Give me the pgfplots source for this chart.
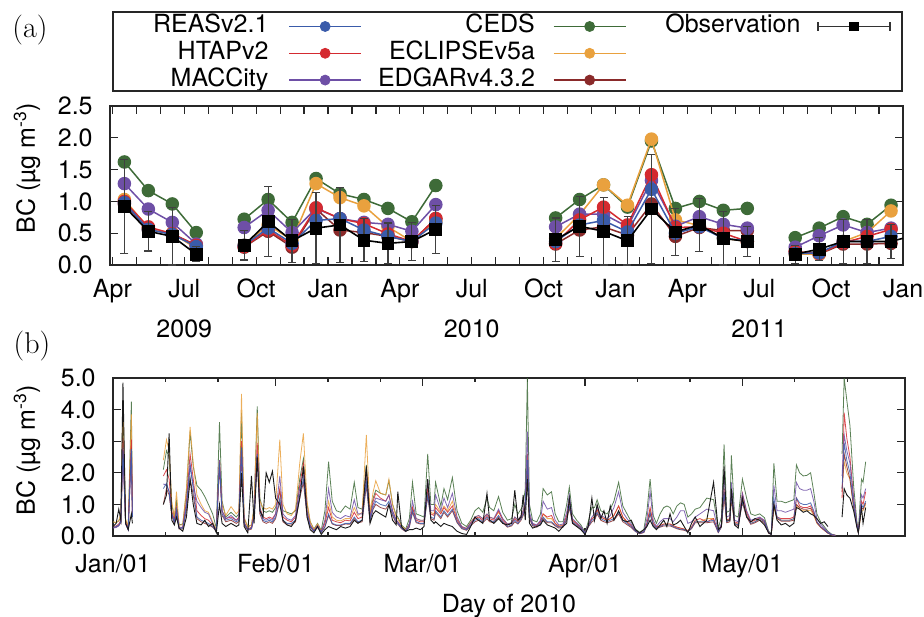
\documentclass[border=0pt]{standalone}
\usepackage{fontspec}
\setsansfont{TeX Gyre Heros}
\usepackage{pgfplots}
\pgfplotsset{compat=1.18}
\usepackage{pgfplotstable}

\definecolor{creas}{HTML}{3A5BAA}
\definecolor{chtap}{HTML}{D42A30}
\definecolor{cmacc}{HTML}{6E4FA6}
\definecolor{cceds}{HTML}{3E6B38}
\definecolor{cecl}{HTML}{E9A13E}
\definecolor{cedgar}{HTML}{8A2A2A}

% monthly means, x = months since 2009-01-01
\pgfplotstableread{
m obs err reas htap macc ceds ecl edgar
3.5 0.92 0.74 0.98 1.00 1.28 1.62 1.03 0.96
4.5 0.53 0.31 0.56 0.60 0.88 1.17 0.58 0.56
5.5 0.45 0.45 0.48 0.49 0.67 0.96 0.50 0.49
6.5 0.17 0.12 0.29 0.31 0.33 0.51 0.26 0.31
7.5 nan nan nan nan nan nan nan nan
8.5 0.31 0.23 0.31 0.29 0.59 0.72 0.31 0.28
9.5 0.68 0.55 0.58 0.55 0.86 1.03 0.63 0.53
10.5 0.38 0.34 0.34 0.31 0.51 0.67 0.39 0.28
11.5 0.58 0.56 0.70 0.90 0.89 1.36 1.28 0.88
12.5 0.63 0.59 0.73 0.73 0.73 1.12 1.06 0.55
13.5 0.39 0.34 0.55 0.65 0.67 1.03 0.93 0.51
14.5 0.34 0.32 0.45 0.49 0.64 0.89 0.60 0.45
15.5 0.37 0.30 0.37 0.37 0.53 0.68 0.37 0.37
16.5 0.56 0.38 0.66 0.73 0.95 1.25 0.68 0.73
17.5 nan nan nan nan nan nan nan nan
21.5 0.40 0.34 0.37 0.34 0.60 0.74 0.42 0.33
22.5 0.61 0.47 0.63 0.71 0.80 1.03 0.79 0.55
23.5 0.53 0.53 0.70 0.91 0.80 1.26 1.26 0.60
24.5 0.38 0.38 0.52 0.63 0.60 0.91 0.94 0.47
25.5 0.88 0.86 1.19 1.42 1.33 1.95 1.98 0.96
26.5 0.52 0.37 0.50 0.59 0.61 0.89 0.71 0.45
27.5 0.63 0.42 0.60 0.60 0.76 1.00 0.62 0.59
28.5 0.42 0.42 0.42 0.50 0.64 0.86 0.42 0.54
29.5 0.37 0.24 0.38 0.37 0.58 0.89 0.37 0.54
30.5 nan nan nan nan nan nan nan nan
31.5 0.17 0.14 0.18 0.21 0.28 0.43 0.17 0.21
32.5 0.25 0.18 0.19 0.18 0.46 0.58 0.17 0.17
33.5 0.37 0.34 0.37 0.35 0.63 0.76 0.37 0.33
34.5 0.37 0.35 0.37 0.45 0.51 0.64 0.51 0.33
35.5 0.37 0.27 0.45 0.56 0.58 0.94 0.85 0.34
}\monthly

% daily series of 2010, x = days since 2010-01-01
\pgfplotstableread{
d obs reas htap macc ceds ecl edgar
0.0 0.30 0.28 0.30 0.25 0.45 0.45 0.27
0.6 0.40 0.30 0.32 0.27 0.42 0.42 0.28
1.1 0.85 0.35 0.38 0.32 0.48 0.50 0.33
1.5 0.50 0.45 0.50 0.45 0.60 0.70 0.42
1.9 4.85 2.80 3.10 2.70 4.10 4.25 2.60
2.4 0.40 0.40 0.45 0.40 0.50 0.55 0.38
2.9 0.20 0.20 0.22 0.20 0.30 0.30 0.20
3.5 0.70 2.75 3.05 2.70 4.25 3.85 2.80
3.7 0.40 0.60 0.70 0.60 0.90 0.90 0.60
4.0 nan nan nan nan nan nan nan
9.6 1.00 1.50 1.90 1.65 2.10 2.40 1.00
10.2 1.30 1.67 2.10 1.60 2.70 3.05 1.50
10.7 3.25 1.40 1.80 1.40 2.50 2.70 1.30
11.2 0.50 0.70 0.80 0.70 1.00 1.10 0.65
11.7 0.35 0.45 0.50 0.45 0.60 0.60 0.40
12.1 0.60 0.80 0.90 0.85 1.10 1.40 0.80
12.6 0.25 0.25 0.28 0.25 0.35 0.35 0.22
13.3 0.15 0.25 0.28 0.27 0.38 0.35 0.22
14.0 0.60 0.90 1.10 1.00 1.40 1.50 0.80
14.7 1.80 2.20 2.60 2.30 3.30 3.45 1.80
15.3 1.00 1.50 1.80 1.60 2.20 2.30 1.30
16.0 0.40 0.60 0.80 1.10 1.60 1.30 0.55
16.8 0.35 0.50 0.65 0.90 1.45 1.00 0.45
17.5 0.50 0.45 0.55 0.75 1.25 0.80 0.40
18.2 0.30 0.40 0.50 0.70 1.00 0.75 0.35
19.0 0.40 0.30 0.35 0.40 0.70 0.45 0.28
19.7 0.10 0.15 0.18 0.18 0.25 0.22 0.15
20.3 1.00 2.30 2.40 2.40 3.60 2.40 2.20
20.8 0.40 0.70 0.80 0.80 1.10 1.00 0.65
21.5 0.30 0.50 0.55 0.55 0.60 0.65 0.45
22.5 0.40 0.55 0.60 0.65 0.75 0.93 0.50
23.5 0.30 0.45 0.50 0.50 0.60 0.70 0.40
24.0 0.35 0.50 0.60 0.55 0.70 0.80 0.45
24.5 2.00 2.80 3.00 2.80 3.90 4.50 2.60
25.0 0.30 0.40 0.45 0.40 0.55 0.60 0.35
25.7 0.10 0.20 0.22 0.20 0.30 0.28 0.18
26.4 1.90 0.25 0.28 0.25 0.35 0.35 0.22
26.9 0.40 0.60 0.70 0.65 0.90 0.90 0.55
27.5 2.50 2.60 2.95 2.60 4.10 3.90 2.50
28.0 0.80 0.80 0.90 0.85 1.20 1.10 0.70
28.6 0.60 0.50 0.60 0.55 0.80 0.90 0.45
29.2 2.00 0.45 0.55 0.50 0.75 0.85 0.40
29.8 1.70 0.50 0.60 0.55 0.80 0.90 0.45
30.4 2.05 0.45 0.55 0.50 0.75 0.85 0.40
31.0 1.20 0.60 0.70 0.70 0.90 1.00 0.55
31.8 1.00 1.20 1.50 1.90 1.40 3.05 1.10
32.4 0.50 0.50 0.60 0.70 0.80 1.00 0.45
33.2 0.35 0.40 0.50 0.55 0.75 0.70 0.35
34.0 0.30 0.40 0.45 0.50 0.70 0.65 0.35
34.8 0.50 0.50 0.60 0.65 0.80 0.85 0.45
35.6 1.20 1.30 1.60 1.50 1.80 2.30 1.20
36.3 2.20 1.80 2.30 2.00 2.45 3.25 1.70
37.0 0.60 0.70 0.80 0.75 1.00 1.10 0.60
37.6 0.20 0.30 0.35 0.33 0.45 0.45 0.28
38.3 0.10 0.15 0.17 0.16 0.22 0.20 0.14
39.0 0.30 0.30 0.33 0.32 0.40 0.38 0.28
39.7 0.05 0.12 0.14 0.13 0.18 0.16 0.11
40.4 0.20 0.30 0.40 0.50 0.80 0.45 0.28
41.1 0.30 0.70 0.90 1.50 2.35 1.10 0.65
41.8 0.25 0.40 0.50 0.75 1.10 0.60 0.38
42.6 0.20 0.35 0.45 0.60 0.80 0.50 0.33
43.4 0.30 0.35 0.42 0.55 0.75 0.48 0.33
44.3 0.25 0.40 0.50 0.65 0.95 0.55 0.38
45.2 0.30 0.40 0.48 0.60 0.85 0.55 0.37
46.0 0.50 0.60 0.75 1.15 1.70 0.90 0.55
46.7 0.40 0.45 0.55 0.70 0.90 0.65 0.42
47.5 0.50 0.50 0.60 0.70 0.85 0.75 0.45
48.3 2.20 1.70 2.10 1.80 2.25 3.20 1.60
49.0 0.40 0.50 0.60 0.60 0.70 0.75 0.45
49.6 0.70 0.90 1.10 1.00 1.20 1.40 0.85
50.1 0.80 1.10 1.35 1.20 1.45 1.75 1.00
51.0 0.70 1.00 1.20 1.15 1.35 1.35 0.90
52.0 0.60 0.95 1.10 1.10 1.30 1.30 0.85
52.6 1.00 1.10 1.30 1.30 1.75 1.80 1.00
53.3 0.50 0.70 0.80 0.80 1.00 1.00 0.65
54.0 0.35 0.45 0.50 0.50 0.65 0.60 0.40
54.3 1.40 0.40 0.45 0.45 0.60 0.55 0.38
55.0 0.30 0.25 0.28 0.28 0.35 0.32 0.23
55.8 0.15 0.15 0.17 0.17 0.22 0.20 0.14
56.5 0.20 0.30 0.35 0.40 0.55 0.38 0.28
57.1 0.20 0.80 0.90 1.10 1.70 0.90 0.75
57.8 0.25 0.45 0.50 0.55 0.70 0.55 0.42
58.6 0.20 0.40 0.45 0.50 0.65 0.50 0.38
59.3 0.30 0.40 0.45 0.50 0.60 0.50 0.38
60.0 1.80 1.30 1.50 1.80 2.60 1.40 1.25
60.6 0.50 0.60 0.70 0.80 1.00 0.75 0.55
61.2 0.40 0.55 0.65 0.80 1.00 0.70 0.50
61.5 0.45 0.80 0.90 1.30 1.70 1.00 0.75
62.5 0.30 0.60 0.70 0.80 0.95 0.75 0.55
63.1 0.40 0.80 0.90 1.20 1.50 0.95 0.75
63.8 0.35 0.65 0.75 0.90 1.15 0.80 0.60
64.7 0.30 0.85 0.95 1.35 1.85 1.10 0.80
65.6 0.15 0.45 0.50 0.60 0.80 0.55 0.42
66.5 0.08 0.25 0.28 0.30 0.40 0.30 0.23
67.4 0.05 0.20 0.22 0.24 0.30 0.24 0.18
68.2 0.30 0.35 0.40 0.42 0.50 0.45 0.32
69.0 0.60 0.50 0.55 0.60 0.80 0.60 0.45
69.7 0.50 0.55 0.60 0.65 0.90 0.65 0.50
70.5 0.40 0.45 0.50 0.55 0.75 0.55 0.42
71.3 1.35 0.60 0.65 0.70 1.20 0.70 0.55
71.8 0.50 0.50 0.55 0.60 0.90 0.60 0.45
72.6 0.40 0.45 0.50 0.55 0.80 0.55 0.42
73.5 0.55 0.65 0.80 0.85 1.25 0.75 0.60
74.3 0.40 0.45 0.50 0.55 0.75 0.55 0.42
75.2 0.35 0.30 0.35 0.38 0.50 0.38 0.28
76.0 0.40 0.35 0.40 0.42 0.55 0.42 0.32
76.6 1.45 0.50 0.55 0.60 1.00 0.60 0.45
77.2 0.50 0.40 0.45 0.50 0.70 0.50 0.38
77.8 0.60 0.55 0.60 0.65 0.85 0.65 0.50
78.2 1.30 0.70 0.75 0.80 1.00 0.80 0.65
78.6 0.50 0.90 1.00 1.10 1.50 1.00 0.85
79.0 1.80 2.40 2.60 3.30 5.00 2.00 2.20
79.4 0.40 0.60 0.65 0.75 1.00 0.60 0.55
80.0 0.25 0.35 0.38 0.40 0.50 0.38 0.32
80.8 0.30 0.30 0.33 0.35 0.45 0.33 0.28
81.5 0.35 0.40 0.45 0.50 0.70 0.45 0.38
82.0 0.50 0.60 0.70 1.10 1.50 0.70 0.55
82.8 0.35 0.45 0.60 0.85 1.30 0.55 0.42
83.6 0.30 0.45 0.65 0.90 1.40 0.55 0.42
84.3 0.25 0.35 0.40 0.50 0.70 0.40 0.32
85.0 0.15 0.28 0.30 0.35 0.45 0.32 0.25
85.8 0.30 0.30 0.33 0.38 0.45 0.35 0.28
86.5 0.40 0.55 0.65 0.75 1.00 0.60 0.50
87.0 1.20 0.95 1.10 1.30 1.55 0.90 0.90
87.6 0.40 0.45 0.50 0.55 0.70 0.50 0.42
88.4 0.30 0.35 0.38 0.42 0.50 0.40 0.32
89.2 0.20 0.25 0.27 0.30 0.35 0.28 0.23
90.0 0.05 0.08 0.09 0.10 0.12 0.09 0.07
90.6 0.30 0.30 0.33 0.35 0.45 0.33 0.28
91.3 1.20 0.50 0.55 0.60 0.90 0.55 0.45
91.8 0.50 0.55 0.60 0.70 0.90 0.60 0.50
92.3 1.00 0.75 0.85 0.90 1.15 0.80 0.70
93.0 0.55 0.55 0.60 0.65 0.80 0.60 0.50
93.6 0.80 0.50 0.55 0.60 0.75 0.55 0.45
94.2 0.40 0.45 0.50 0.55 0.70 0.50 0.42
94.8 0.95 0.50 0.55 0.65 0.85 0.55 0.45
95.5 0.50 0.55 0.65 0.90 1.10 0.65 0.50
96.4 0.80 0.75 0.95 1.40 1.70 0.95 0.70
97.2 0.50 0.50 0.60 0.75 0.95 0.60 0.45
98.0 0.45 0.40 0.45 0.55 0.70 0.45 0.36
98.8 0.50 0.30 0.33 0.38 0.45 0.33 0.27
99.6 0.20 0.15 0.17 0.18 0.22 0.16 0.14
100.4 0.10 0.08 0.09 0.10 0.12 0.09 0.07
101.2 0.20 0.12 0.13 0.15 0.20 0.13 0.11
101.8 0.30 0.35 0.40 0.55 0.80 0.40 0.32
102.4 0.50 0.75 0.90 1.40 1.80 0.85 0.70
103.0 0.30 0.35 0.40 0.50 0.65 0.40 0.32
103.6 0.20 0.25 0.28 0.30 0.40 0.28 0.23
104.3 0.35 0.30 0.33 0.45 0.70 0.33 0.28
105.0 0.50 0.35 0.38 0.55 0.90 0.38 0.32
105.6 0.30 0.35 0.38 0.55 0.95 0.38 0.32
106.2 0.70 0.35 0.38 0.55 0.90 0.38 0.32
106.8 0.35 0.30 0.33 0.45 0.70 0.33 0.28
107.5 0.40 0.25 0.28 0.60 0.95 0.28 0.23
108.2 0.50 0.22 0.25 0.80 1.05 0.25 0.20
108.9 0.30 0.20 0.22 0.80 1.00 0.22 0.18
109.6 0.10 0.15 0.17 0.40 0.60 0.17 0.14
110.3 0.40 0.25 0.28 0.45 0.70 0.28 0.23
111.0 0.60 0.45 0.50 0.60 0.85 0.45 0.42
111.9 0.30 0.45 0.55 0.70 0.90 0.45 0.42
113.2 0.50 0.45 0.45 0.85 1.20 0.55 0.42
114.5 1.70 0.50 0.55 0.80 1.15 0.55 0.45
115.4 0.20 0.12 0.13 0.15 0.25 0.13 0.11
116.0 0.30 0.30 0.35 0.40 0.60 0.35 0.28
116.5 2.20 1.40 1.50 2.00 2.90 1.30 1.30
117.0 0.50 0.45 0.50 0.60 0.75 0.45 0.42
117.6 0.50 0.50 0.55 0.65 0.80 0.50 0.45
117.9 1.50 1.30 1.40 1.70 2.55 1.20 1.20
118.5 0.35 0.40 0.45 0.50 0.65 0.40 0.37
119.2 0.25 0.35 0.40 0.45 0.60 0.38 0.33
120.0 1.20 1.10 1.35 1.35 1.80 1.20 1.05
120.8 0.60 0.65 0.75 0.80 1.20 0.70 0.60
121.6 0.45 0.40 0.45 0.50 0.70 0.40 0.37
122.4 0.55 0.45 0.50 0.55 0.65 0.45 0.42
123.3 0.50 0.55 0.58 0.60 0.70 0.55 0.50
124.2 0.35 0.45 0.48 0.50 0.58 0.45 0.42
125.0 0.10 0.10 0.11 0.12 0.15 0.10 0.09
125.5 0.05 0.05 0.06 0.06 0.08 0.05 0.05
126.0 1.00 1.20 1.00 1.60 2.30 0.90 1.00
126.6 0.50 0.60 0.60 0.80 1.10 0.55 0.55
127.4 0.35 0.50 0.55 0.80 1.10 0.50 0.47
128.2 0.40 0.50 0.55 0.75 1.05 0.50 0.47
129.0 0.30 0.50 0.55 0.80 1.10 0.50 0.47
129.8 0.40 0.55 0.60 0.85 1.15 0.55 0.50
130.3 0.90 1.20 1.20 1.70 2.25 0.95 1.00
130.9 0.85 1.05 0.95 1.50 2.00 0.85 0.90
131.6 0.75 1.00 0.90 1.45 1.90 0.80 0.85
132.3 0.80 1.00 0.90 1.45 1.92 0.80 0.85
133.0 0.70 1.05 0.95 1.50 2.00 0.82 0.88
133.6 0.65 0.80 0.75 1.10 1.40 0.65 0.70
134.2 0.55 0.45 0.45 0.55 0.70 0.40 0.42
134.9 0.40 0.30 0.30 0.38 0.45 0.28 0.28
135.6 0.45 0.20 0.20 0.25 0.30 0.18 0.18
136.3 0.30 0.10 0.10 0.12 0.15 0.09 0.09
137.0 nan 0.04 0.04 0.05 0.06 0.04 0.04
137.7 nan 0.02 0.02 0.02 0.03 0.02 0.02
138.3 nan nan nan nan nan nan nan
139.0 0.60 1.50 1.20 1.90 2.60 1.50 1.40
139.4 1.50 2.95 3.90 3.20 5.00 2.35 2.60
139.9 1.30 2.40 3.10 2.70 4.30 2.00 2.20
140.5 1.20 2.00 2.50 2.30 3.50 1.80 1.80
141.2 0.80 1.00 1.20 1.20 1.60 0.90 0.90
141.8 0.30 0.35 0.40 0.40 0.50 0.35 0.32
142.1 0.10 0.12 0.13 0.13 0.15 0.12 0.11
142.7 0.90 1.00 1.10 1.30 1.80 0.80 0.90
143.0 0.40 0.90 1.00 1.20 1.70 0.80 0.85
143.5 0.90 1.10 1.40 1.50 2.35 1.00 1.05
}\daily

\pgfplotsset{
  base/.style={
    scale only axis, anchor=south west,
    axis line style={black!85, line width=0.75pt},
    every tick/.style={black!85, line width=0.6pt},
    tick align=inside,
    major tick length=4pt, minor tick length=4pt,
    tick label style={font=\fontsize{12.5}{15}\sffamily},
    /pgf/number format/assume math mode=true,
    yticklabel style={/pgf/number format/fixed, /pgf/number format/fixed zerofill,
      /pgf/number format/precision=1, inner sep=0pt, anchor=east, xshift=-8.5pt},
    xticklabel style={inner sep=0pt, anchor=base},
    unbounded coords=jump,
    clip mode=individual,
  },
  lgline/.style={legend image code/.code={%
    \draw[line width=0.75pt, draw=#1] (0pt,0pt) -- (36pt,0pt);
    \fill[#1] (18pt,0pt) circle[radius=2.5pt];}},
}

\begin{document}
\begin{tikzpicture}[font=\fontsize{12.5}{15}\sffamily]
\useasboundingbox (0,0) rectangle (462pt,-308pt);

\begin{axis}[base, at={(55pt,-132.5pt)}, width=396.5pt, height=79.5pt,
  xmin=2.9, xmax=36, ymin=0, ymax=2.5,
  xtick={3,6,...,36},
  xticklabels={Apr,Jul,Oct,Jan,Apr,Jul,Oct,Jan,Apr,Jul,Oct,Jan},
  minor x tick num=2,
  ytick={0,0.5,1,1.5,2,2.5},
  xticklabel style={yshift=-16pt},
  legend columns=3,
  legend plot pos=right,
  legend cell align=right,
  legend style={at={(0.0038,1.597)}, anchor=north west, draw=none, fill=none,
    inner xsep=8pt, inner ysep=1pt, column sep=0pt, row sep=0.4pt,
    font=\fontsize{12.5}{15}\sffamily,
    nodes={inner sep=0pt, text height=9.5pt, text depth=3.5pt}},
]
% legend
\addlegendimage{lgline=creas}
\addlegendentry{\makebox[79.5pt][r]{REASv2.1\hspace{10pt}}}
\addlegendimage{lgline=cceds}
\addlegendentry{\makebox[95.5pt][r]{CEDS\hspace{9pt}}}
\addlegendimage{legend image code/.code={%
  \draw[draw=black!80, line width=0.6pt] (0pt,0pt) -- (36pt,0pt);
  \draw[draw=black!80, line width=0.6pt] (0pt,-2.2pt) -- (0pt,2.2pt) (36pt,-2.2pt) -- (36pt,2.2pt);
  \fill[black] (15.9pt,-2.1pt) rectangle (20.1pt,2.1pt);}}
\addlegendentry{\makebox[95.5pt][r]{Observation\hspace{8.5pt}}}
\addlegendimage{lgline=chtap}
\addlegendentry{\makebox[79.5pt][r]{HTAPv2\hspace{10pt}}}
\addlegendimage{lgline=cecl}
\addlegendentry{\makebox[95.5pt][r]{ECLIPSEv5a\hspace{9pt}}}
\addlegendimage{empty legend}
\addlegendentry{}
\addlegendimage{lgline=cmacc}
\addlegendentry{\makebox[79.5pt][r]{MACCity\hspace{10pt}}}
\addlegendimage{lgline=cedgar}
\addlegendentry{\makebox[95.5pt][r]{EDGARv4.3.2\hspace{9pt}}}
\addlegendimage{empty legend}
\addlegendentry{}

% data
\addplot[cceds, line width=0.75pt, mark=*, mark size=3pt, forget plot] table[x=m, y=ceds] {\monthly};
\addplot[cedgar, line width=0.75pt, mark=*, mark size=3pt, forget plot] table[x=m, y=edgar] {\monthly};
\addplot[cecl, line width=0.75pt, mark=*, mark size=3pt, forget plot] table[x=m, y=ecl] {\monthly};
\addplot[cmacc, line width=0.75pt, mark=*, mark size=3pt, forget plot] table[x=m, y=macc] {\monthly};
\addplot[chtap, line width=0.75pt, mark=*, mark size=3pt, forget plot] table[x=m, y=htap] {\monthly};
\addplot[creas, line width=0.75pt, mark=*, mark size=3pt, forget plot] table[x=m, y=reas] {\monthly};
\addplot[black, line width=0.8pt, mark=square*, mark size=2.8pt, forget plot,
  error bars/.cd, y dir=both, y explicit,
  error bar style={black!75, line width=0.6pt},
  error mark options={rotate=90, mark size=2pt, black!75, line width=0.6pt}]
  table[x=m, y=obs, y error=err] {\monthly};
\addplot[black, line width=0.8pt, no marks, forget plot] coordinates {(35.5,0.37) (36,0.42)};

\node[anchor=base, yshift=-36pt] at (axis cs:6,0) {2009};
\node[anchor=base, yshift=-36pt] at (axis cs:18,0) {2010};
\node[anchor=base, yshift=-36pt] at (axis cs:30,0) {2011};
\end{axis}

% legend frame
\draw[black!85, line width=0.6pt] (56.5pt,-6pt) rectangle (451pt,-45.5pt);

\begin{axis}[base, at={(56.5pt,-268pt)}, width=396pt, height=79pt,
  xmin=0, xmax=151, ymin=0, ymax=5,
  xtick={0,31,59,90,120},
  xticklabels={Jan/01,Feb/01,Mar/01,Apr/01,May/01},
  minor xtick={10,20,41,51,69,79,100,110,130,140},
  minor tick length=2pt,
  ytick={0,1,2,3,4,5},
  xticklabel style={yshift=-18pt},
]
\addplot[cceds, line width=0.4pt, opacity=0.85] table[x=d, y=ceds] {\daily};
\addplot[cecl, line width=0.4pt, opacity=0.85] table[x=d, y=ecl] {\daily};
\addplot[cedgar, line width=0.4pt, opacity=0.85] table[x=d, y=edgar] {\daily};
\addplot[chtap, line width=0.4pt, opacity=0.85] table[x=d, y=htap] {\daily};
\addplot[cmacc, line width=0.4pt, opacity=0.85] table[x=d, y=macc] {\daily};
\addplot[creas, line width=0.4pt, opacity=0.85] table[x=d, y=reas] {\daily};
\addplot[black!90, line width=0.45pt] table[x=d, y=obs] {\daily};
\end{axis}

\node[rotate=90] at (13.5pt,-84pt) {BC (µg m\textsuperscript{-3})};
\node[rotate=90] at (13.5pt,-225pt) {BC (µg m\textsuperscript{-3})};
\node[anchor=base] at (254.5pt,-306pt) {Day of 2010};
\node[font=\rmfamily\fontsize{15}{18}\selectfont] at (15pt,-15pt) {(a)};
\node[font=\rmfamily\fontsize{15}{18}\selectfont] at (16pt,-173pt) {(b)};
\end{tikzpicture}
\end{document}
